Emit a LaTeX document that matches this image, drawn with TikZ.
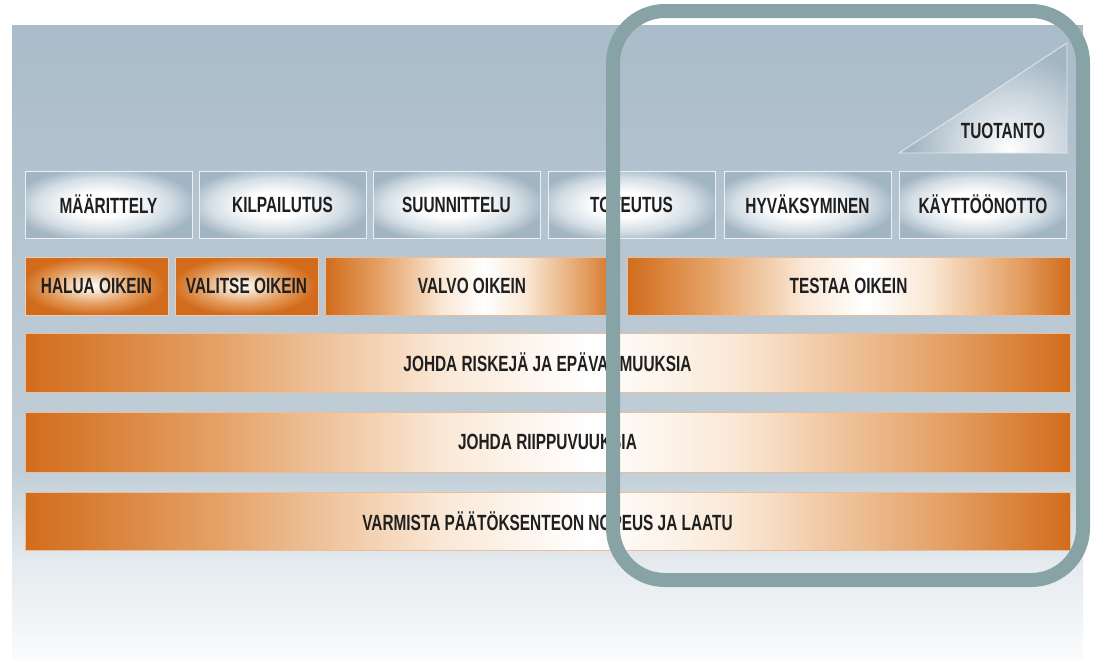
\documentclass[tikz,border=0pt]{standalone}
\usepackage{fontspec}
\setmainfont{Liberation Sans}[FakeStretch=0.7]
\definecolor{paneltop}{RGB}{170,188,201}
\definecolor{panelmid}{RGB}{194,207,216}
\definecolor{panellow}{RGB}{228,234,238}
\definecolor{panelbot}{RGB}{250,251,252}
\definecolor{boxblue}{RGB}{162,181,195}
\definecolor{boxlight}{RGB}{212,222,229}
\definecolor{orng}{RGB}{210,108,28}
\definecolor{orngmid}{RGB}{228,160,100}
\definecolor{orngpale}{RGB}{250,232,214}
\definecolor{framec}{RGB}{136,163,166}
\pgfdeclareradialshading{phaseshade}{\pgfpoint{-3bp}{0bp}}{color(0bp)=(white); color(9bp)=(white); color(20bp)=(boxlight); color(28bp)=(boxblue); color(50bp)=(boxblue)}
\pgfdeclareradialshading{oshade}{\pgfpoint{-2bp}{0bp}}{color(0bp)=(white); color(4bp)=(orngpale); color(15bp)=(orngmid); color(25bp)=(orng); color(50bp)=(orng)}
\pgfdeclarehorizontalshading{barshade}{100bp}{color(0bp)=(orng); color(25bp)=(orng); color(34bp)=(orngmid); color(45bp)=(orngpale); color(52bp)=(white); color(59bp)=(orngpale); color(69bp)=(orngmid); color(75bp)=(orng); color(100bp)=(orng)}
\tikzset{
  lbl/.style={font=\fontsize{22}{24}\selectfont\bfseries, text=black!88},
  phase/.style={rectangle, minimum width=167pt, minimum height=67pt, inner sep=0pt,
     draw=white!80!boxblue, line width=0.8pt, shading=phaseshade, lbl},
  obox/.style={rectangle, minimum width=143pt, minimum height=58pt, inner sep=0pt,
     draw=orng!35, line width=0.8pt, shading=oshade, lbl},
  obar/.style={rectangle, minimum height=58pt, inner sep=0pt,
     draw=orng!45, line width=0.8pt, shading=barshade, lbl},
  framestyle/.style={draw=framec, line width=14pt, rounded corners=52pt}
}
\begin{document}
\begin{tikzpicture}[x=1pt,y=-1pt]
\useasboundingbox (0,0) rectangle (1095,662);
% background panel
\fill[white] (0,0) rectangle (1095,662);
\shade[top color=paneltop, bottom color=panelmid] (12,25) rectangle (1083,471);
\shade[top color=panelmid, bottom color=panellow] (12,470) rectangle (1083,561);
\shade[top color=panellow, bottom color=panelbot] (12,560) rectangle (1083,658);
% production triangle
\begin{scope}
  \clip (899,153) -- (1067,153) -- (1067,43) -- cycle;
  \fill[boxblue] (899,153) -- (1067,153) -- (1067,43) -- cycle;
  \shade[inner color=white, outer color=boxblue] (1010,150) circle (100);
\end{scope}
\draw[white!70!boxblue, line width=0.8pt] (899,153) -- (1067,153) -- (1067,43) -- cycle;
\node[lbl] (tuotanto) at (1003,131) {TUOTANTO};
% phases
\node[phase] (p1) at (108.5,204.5) {MÄÄRITTELY};
\node[phase] (p2) at (282.5,204.5) {KILPAILUTUS};
\node[phase] (p3) at (456.5,204.5) {SUUNNITTELU};
\node[phase] (p4) at (631.5,204.5) {TOTEUTUS};
\node[phase] (p5) at (807.5,204.5) {HYVÄKSYMINEN};
\node[phase] (p6) at (983,204.5) {KÄYTTÖÖNOTTO};
% orange row
\node[obox] (o1) at (96.5,286) {HALUA OIKEIN};
\node[obox] (o2) at (246.5,286) {VALITSE OIKEIN};
\node[obar, minimum width=293pt] (o3) at (472,286) {VALVO OIKEIN};
\node[obar, minimum width=443pt] (o4) at (848.5,286) {TESTAA OIKEIN};
% bars
\node[obar, minimum width=1045pt, minimum height=59pt] (b1) at (547.5,362.5) {JOHDA RISKEJÄ JA EPÄVARMUUKSIA};
\node[obar, minimum width=1045pt, minimum height=60pt] (b2) at (547.5,442) {JOHDA RIIPPUVUUKSIA};
\node[obar, minimum width=1045pt, minimum height=58pt] (b3) at (547.5,521) {VARMISTA PÄÄTÖKSENTEON NOPEUS JA LAATU};
% production frame
\draw[framestyle] (613,11) rectangle (1083,580);
\end{tikzpicture}
\end{document}
